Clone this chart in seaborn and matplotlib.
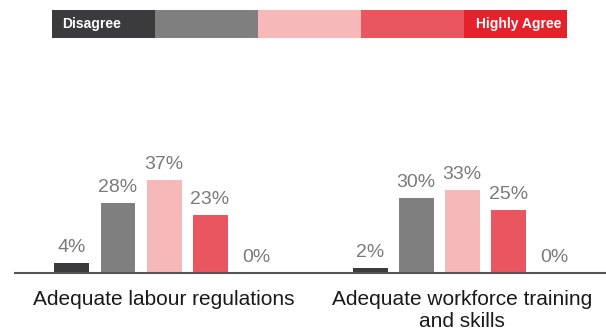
import matplotlib
matplotlib.use("Agg")
import matplotlib.pyplot as plt
import seaborn as sns
import pandas as pd

# Survey results: share of respondents per agreement level
categories = ["Adequate labour regulations", "Adequate workforce training\nand skills"]
levels = ["1", "2", "3", "4", "5"]
labour_values = [4, 28, 37, 23, 0]
workforce_values = [2, 30, 33, 25, 0]
level_colors = ["#3b3b3d", "#7f7f7f", "#f6b8b8", "#ea5660", "#e5222c"]
scale_labels = ["Disagree", "Highly Agree"]

rows = []
for cat, vals in zip(categories, [labour_values, workforce_values]):
    for lvl, v in zip(levels, vals):
        rows.append({"category": cat, "level": lvl, "value": v})
df = pd.DataFrame(rows)

sns.set_theme(style="white")
plt.rcParams["font.family"] = ["Liberation Sans", "DejaVu Sans"]

fig = plt.figure(figsize=(6.06, 3.36), dpi=100)

# Main bar chart
ax = fig.add_axes([15 / 606, 1 - 273 / 336, 591 / 606, 113 / 336])
sns.barplot(data=df, x="category", y="value", hue="level", hue_order=levels,
            palette=level_colors, saturation=1, width=0.772, gap=0.24,
            linewidth=0, legend=False, ax=ax)
ax.set_xlim(-0.5, 1.483)
ax.set_ylim(0, 45)
for container, lvl in zip(ax.containers, levels):
    vals = df[df["level"] == lvl]["value"].tolist()
    ax.bar_label(container, labels=[f"{v}%" for v in vals], padding=5,
                 fontsize=14, color="#7a7a7a", clip_on=False)
sns.despine(ax=ax, left=True, top=True, right=True)
ax.spines["bottom"].set_color("#555555")
ax.spines["bottom"].set_linewidth(1.5)
ax.set_yticks([])
ax.set_xlabel("")
ax.set_ylabel("")
ax.tick_params(axis="x", length=0, pad=12, labelsize=15, colors="#1a1a1a")
for lbl in ax.get_xticklabels():
    lbl.set_linespacing(1.25)

# Colour scale key across the top
kax = fig.add_axes([52 / 606, 1 - 38 / 336, 515 / 606, 28 / 336])
for i, c in enumerate(level_colors):
    kax.barh(0, 1, left=i, height=1, color=c, linewidth=0)
kax.set_xlim(0, len(level_colors))
kax.set_ylim(-0.5, 0.5)
kax.axis("off")
kax.text(0.1, 0, scale_labels[0], color="white", fontsize=10, fontweight="bold",
         ha="left", va="center")
kax.text(len(level_colors) - 0.05, 0, scale_labels[1], color="white", fontsize=10,
         fontweight="bold", ha="right", va="center")

fig.savefig("out.png", dpi=100)
